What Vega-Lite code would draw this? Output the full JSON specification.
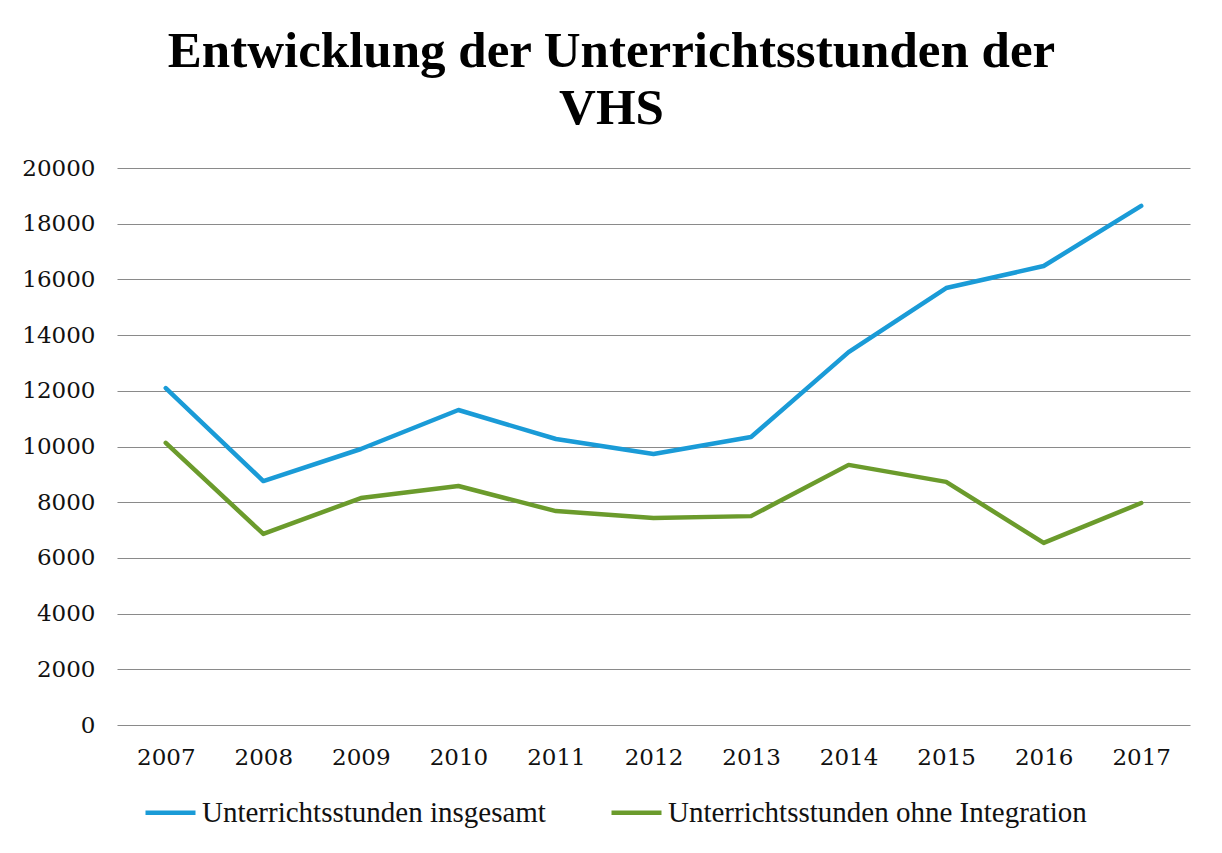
{
  "$schema": "https://vega.github.io/schema/vega-lite/v6.json",
  "width": 1073,
  "height": 557,
  "autosize": {"type": "none"},
  "padding": {"left": 117, "top": 168, "right": 32, "bottom": 128},
  "background": "white",
  "title": {
    "text": ["Entwicklung der Unterrichtsstunden der", "VHS"],
    "font": "Liberation Serif",
    "fontSize": 51,
    "fontWeight": "bold",
    "color": "#000000",
    "lineHeight": 57,
    "anchor": "middle",
    "dx": -42,
    "offset": 22
  },
  "data": {
    "values": [
      {"Jahr": "2007", "Serie": "Unterrichtsstunden insgesamt", "Wert": 12100},
      {"Jahr": "2008", "Serie": "Unterrichtsstunden insgesamt", "Wert": 8760},
      {"Jahr": "2009", "Serie": "Unterrichtsstunden insgesamt", "Wert": 9910},
      {"Jahr": "2010", "Serie": "Unterrichtsstunden insgesamt", "Wert": 11310},
      {"Jahr": "2011", "Serie": "Unterrichtsstunden insgesamt", "Wert": 10270},
      {"Jahr": "2012", "Serie": "Unterrichtsstunden insgesamt", "Wert": 9730},
      {"Jahr": "2013", "Serie": "Unterrichtsstunden insgesamt", "Wert": 10340},
      {"Jahr": "2014", "Serie": "Unterrichtsstunden insgesamt", "Wert": 13390},
      {"Jahr": "2015", "Serie": "Unterrichtsstunden insgesamt", "Wert": 15690},
      {"Jahr": "2016", "Serie": "Unterrichtsstunden insgesamt", "Wert": 16480},
      {"Jahr": "2017", "Serie": "Unterrichtsstunden insgesamt", "Wert": 18640},
      {"Jahr": "2007", "Serie": "Unterrichtsstunden ohne Integration", "Wert": 10130},
      {"Jahr": "2008", "Serie": "Unterrichtsstunden ohne Integration", "Wert": 6860},
      {"Jahr": "2009", "Serie": "Unterrichtsstunden ohne Integration", "Wert": 8150},
      {"Jahr": "2010", "Serie": "Unterrichtsstunden ohne Integration", "Wert": 8580},
      {"Jahr": "2011", "Serie": "Unterrichtsstunden ohne Integration", "Wert": 7680},
      {"Jahr": "2012", "Serie": "Unterrichtsstunden ohne Integration", "Wert": 7430},
      {"Jahr": "2013", "Serie": "Unterrichtsstunden ohne Integration", "Wert": 7500},
      {"Jahr": "2014", "Serie": "Unterrichtsstunden ohne Integration", "Wert": 9340},
      {"Jahr": "2015", "Serie": "Unterrichtsstunden ohne Integration", "Wert": 8730},
      {"Jahr": "2016", "Serie": "Unterrichtsstunden ohne Integration", "Wert": 6540},
      {"Jahr": "2017", "Serie": "Unterrichtsstunden ohne Integration", "Wert": 7970}
    ]
  },
  "mark": {"type": "line", "strokeWidth": 4.5, "strokeCap": "round", "strokeJoin": "round"},
  "encoding": {
    "x": {
      "field": "Jahr",
      "type": "ordinal",
      "scale": {"type": "point", "padding": 0.5},
      "axis": {
        "title": null,
        "labelAngle": 0,
        "ticks": false,
        "domain": false,
        "labelPadding": 21,
        "labelFont": "DejaVu Serif",
        "labelFontSize": 23,
        "labelColor": "#111111"
      }
    },
    "y": {
      "field": "Wert",
      "type": "quantitative",
      "scale": {"domain": [0, 20000], "nice": false},
      "axis": {
        "title": null,
        "values": [0, 2000, 4000, 6000, 8000, 10000, 12000, 14000, 16000, 18000, 20000],
        "format": "d",
        "ticks": false,
        "domain": false,
        "grid": true,
        "gridColor": "#8a8a8a",
        "gridWidth": 1.2,
        "labelPadding": 22,
        "labelFont": "DejaVu Serif",
        "labelFontSize": 23,
        "labelColor": "#111111"
      }
    },
    "color": {
      "field": "Serie",
      "type": "nominal",
      "scale": {
        "domain": ["Unterrichtsstunden insgesamt", "Unterrichtsstunden ohne Integration"],
        "range": ["#1a9bd7", "#6b9b2c"]
      },
      "legend": {
        "title": null,
        "orient": "none",
        "direction": "horizontal",
        "legendX": 26,
        "legendY": 617,
        "symbolType": "stroke",
        "symbolSize": 2500,
        "symbolStrokeWidth": 4.5,
        "labelFont": "Liberation Serif",
        "labelFontSize": 29,
        "labelColor": "#111111",
        "labelOffset": 4,
        "columnPadding": 56,
        "labelLimit": 600
      }
    }
  },
  "config": {
    "view": {"stroke": null}
  }
}
